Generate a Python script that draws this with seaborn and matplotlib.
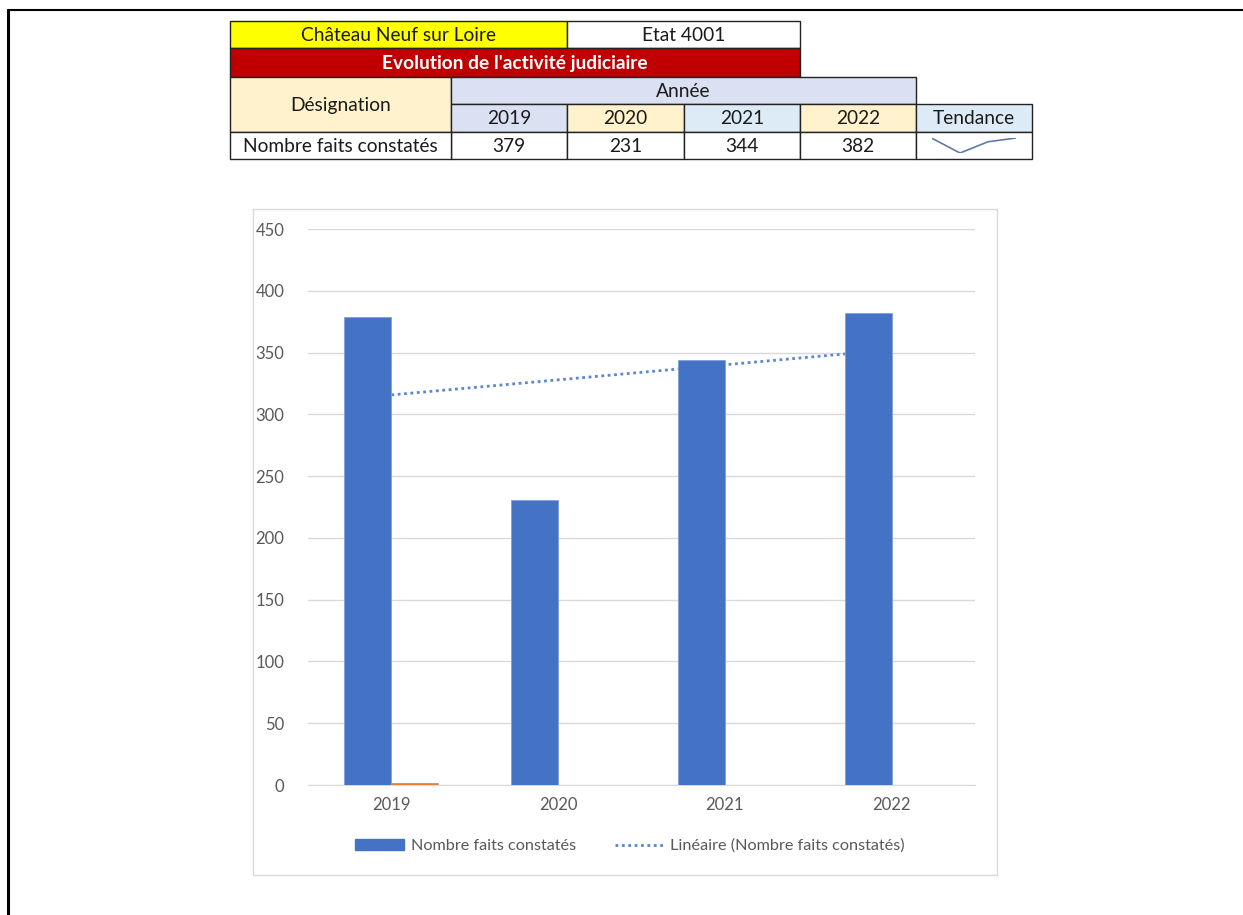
import matplotlib.pyplot as plt
import pandas as pd
import seaborn as sns
import numpy as np
from matplotlib.patches import Rectangle, Patch
from matplotlib.lines import Line2D

# data
years = ["2019", "2020", "2021", "2022"]
faits = [379, 231, 344, 382]
autre = [2, 0, 0, 0]  # small orange series (no legend entry)
serie_label = "Nombre faits constatés"
trend_label = "Linéaire (Nombre faits constatés)"
site = "Château Neuf sur Loire"
etat = "Etat 4001"
titre = "Evolution de l'activité judiciaire"
yticks = [0, 50, 100, 150, 200, 250, 300, 350, 400, 450]

blue = "#4472C4"
orange = "#ED7D31"
grey_txt = "#595959"

sns.set_style("white")
plt.rcParams["font.family"] = ["Lato", "DejaVu Sans"]

W, H = 1243, 915
fig = plt.figure(figsize=(W / 100, H / 100), dpi=100)

# overlay axes in pixel coords for the sheet (table, frames)
bg = fig.add_axes([0, 0, 1, 1], zorder=0)
bg.set_xlim(0, W)
bg.set_ylim(H, 0)
bg.axis("off")

# sheet frame
bg.plot([8, W], [10, 10], color="black", lw=1.5)
bg.plot([8, 8], [10, H], color="black", lw=2.2)


def cell(x0, x1, y0, y1, fill, text="", color="#1a1a1a", bold=False, size=13.8):
    bg.add_patch(Rectangle((x0, y0), x1 - x0, y1 - y0, facecolor=fill,
                           edgecolor="#222222", lw=1))
    if text:
        bg.text((x0 + x1) / 2, (y0 + y1) / 2 + 1, text, ha="center", va="center",
                color=color, fontsize=size, fontweight="bold" if bold else "normal")


cell(230, 567, 21, 48, "#FFFF00", site)
cell(567, 800, 21, 48, "white", etat)
cell(230, 800, 48, 77, "#C00000", titre, color="white", bold=True)
cell(230, 451, 77, 132, "#FFF2CC", "Désignation")
cell(451, 916, 77, 104, "#D9E1F2", "Année")
year_fills = ["#D9E1F2", "#FFF2CC", "#DDEBF7", "#FFF2CC"]
xs = [451, 567, 684, 800, 916]
for i, y in enumerate(years):
    cell(xs[i], xs[i + 1], 104, 132, year_fills[i], y)
    cell(xs[i], xs[i + 1], 132, 159, "white", str(faits[i]))
cell(916, 1032, 104, 132, "#DDEBF7", "Tendance")
cell(916, 1032, 132, 159, "white")
cell(230, 451, 132, 159, "white", serie_label)

# sparkline
sp = fig.add_axes([932 / W, 1 - 153 / H, (1016 - 932) / W, (153 - 138) / H], zorder=2)
sp.plot(range(len(faits)), faits, color="#5F7AA6", lw=1.2)
sp.axis("off")
sp.margins(0, 0)

# chart border
bg.add_patch(Rectangle((253, 209), 997 - 253, 875 - 209, facecolor="white",
                       edgecolor="#D9D9D9", lw=1))

# chart
ax = fig.add_axes([308 / W, 1 - 785 / H, (975 - 308) / W, (785 - 229) / H], zorder=1)
ax.set_facecolor("none")
df = pd.DataFrame({
    "annee": years * 2,
    "valeur": faits + autre,
    "serie": [serie_label] * 4 + ["autre"] * 4,
})
sns.barplot(data=df, x="annee", y="valeur", hue="serie", palette=[blue, orange],
            width=0.564, gap=0, legend=False, ax=ax, zorder=3, saturation=1,
            edgecolor="#7FA0DA", linewidth=0.6)

# linear trendline
x = np.arange(len(faits))
coef = np.polyfit(x + 1, faits, 1)
ax.plot(x, np.polyval(coef, x + 1), color="#5B86D3", lw=2,
        linestyle=(0, (1, 1.3)), zorder=2.5)

ax.set_xlim(-0.5, 3.5)
ax.set_ylim(0, 450)
ax.set_yticks(yticks)
ax.set_xlabel("")
ax.set_ylabel("")
ax.yaxis.grid(True, color="#D9D9D9", lw=1)
ax.set_axisbelow(True)
for s in ["top", "right", "left"]:
    ax.spines[s].set_visible(False)
ax.spines["bottom"].set_color("#D9D9D9")
ax.spines["bottom"].set_zorder(1)
ax.tick_params(axis="both", length=0, colors=grey_txt, labelsize=12)
ax.tick_params(axis="y", pad=17)
ax.tick_params(axis="x", pad=9)

handles = [Patch(facecolor=blue, edgecolor=blue),
           Line2D([], [], color="#5B86D3", lw=2, linestyle=(0, (1, 1.3)))]
fig.legend(handles, [serie_label, trend_label], loc="center",
           bbox_to_anchor=(630 / W, 1 - 846 / H), ncol=2, frameon=False,
           fontsize=11.7, labelcolor=grey_txt, handlelength=3.0, handleheight=0.7,
           handletextpad=0.4, columnspacing=2.4)

fig.savefig("out.png", dpi=100)
